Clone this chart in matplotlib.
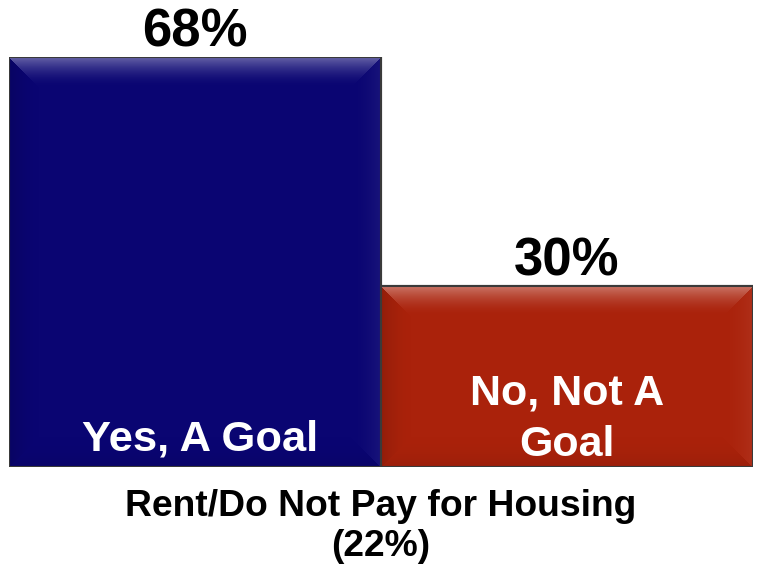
import matplotlib
matplotlib.use("Agg")
import matplotlib.pyplot as plt
import numpy as np

plt.rcParams['font.family'] = ['Liberation Sans', 'DejaVu Sans']

categories = ["Yes, A Goal", "No, Not A\nGoal"]
values = [68, 30]
colors = ["#0a0572", "#aa220b"]
group_label = "Rent/Do Not Pay for Housing\n(22%)"

W, H = 760, 578
fig = plt.figure(figsize=(W / 100, H / 100), dpi=100)
# axes box covers exactly the plotting area of the bars (pixel based)
left, right, base, top = 9, 753, 467, 57
ax = fig.add_axes([left / W, (H - base) / H, (right - left) / W, (base - top) / H])
ax.set_xlim(-0.5, len(values) - 0.5)
ax.set_ylim(0, max(values))
ax.axis("off")

bars = ax.bar(range(len(values)), values, width=1.0, color=colors,
              edgecolor="#3a3a3a", linewidth=1.5, zorder=2)


def bevel_image(color, w, h, bw_top=30, bw_side=30):
    base_rgb = np.array(matplotlib.colors.to_rgb(color))
    yy, xx = np.mgrid[0:h, 0:w] + 0.5
    img = np.tile(base_rgb, (h, w, 1))
    dists = np.stack([yy / bw_top, xx / bw_side, (w - xx) / bw_side, (h - yy) / bw_side])
    face = np.argmin(dists, axis=0)
    t = np.clip(1 - np.min(dists, axis=0), 0, 1) ** 1.8
    # top: lighter, left: darker, right: slightly lighter, bottom: slightly darker
    amounts = np.array([0.38, -0.14, 0.06, -0.08])
    a = amounts[face] * t
    out = np.where(a[..., None] > 0,
                   img + (1 - img) * a[..., None],
                   img * (1 + a[..., None]))
    return np.clip(out, 0, 1)


px_x = (right - left) / (len(values))
px_y = (base - top) / max(values)
for bar, c in zip(bars, colors):
    x0, y0 = bar.get_x(), bar.get_y()
    bw, bh = bar.get_width(), bar.get_height()
    img = bevel_image(c, int(round(bw * px_x)), int(round(bh * px_y)))
    im = ax.imshow(img, extent=[x0, x0 + bw, y0, y0 + bh], aspect="auto",
                   interpolation="bilinear", zorder=2)
    im.set_clip_path(bar)
    ax.add_patch(plt.Rectangle((x0, y0), bw, bh, fill=False,
                               edgecolor="#3a3a3a", linewidth=1.5, zorder=3))

for i, v in enumerate(values):
    ax.annotate(f"{v}%", (i, v), xytext=(0, 7.5), textcoords="offset points",
                ha="center", va="baseline", fontsize=38, fontweight="bold",
                color="black", annotation_clip=False, zorder=4)

ax.text(0.013, 2.8, categories[0], ha="center", va="baseline", fontsize=31.3,
        fontweight="bold", color="white", zorder=4)
ax.text(1, 7.9, categories[1], ha="center", va="center", fontsize=31,
        fontweight="bold", color="white", linespacing=1.35, zorder=4)

fig.text(381 / W, 1 - 489 / H, group_label, ha="center", va="top",
         fontsize=26.8, fontweight="bold", color="black", linespacing=1.2)

fig.savefig("out.png", dpi=100)
